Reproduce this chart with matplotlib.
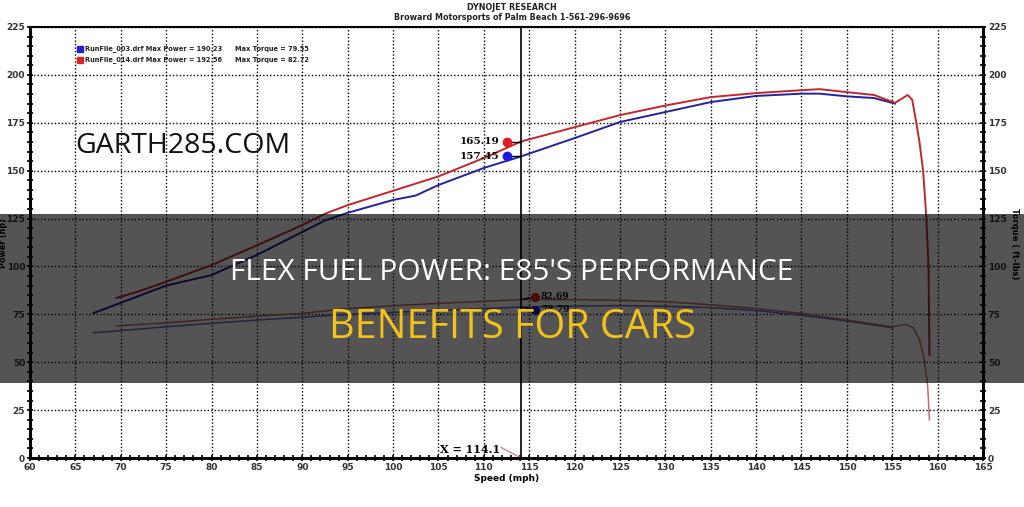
import matplotlib.pyplot as plt
from matplotlib.patches import Rectangle
from matplotlib.ticker import MultipleLocator

# blue run (RunFile_003)
blue_x = [67, 70, 75, 80, 85, 90, 92.5, 95, 100, 102.5, 105, 110, 114.1, 120, 125,
          130, 135, 140, 145, 147, 150, 153, 155.3]
blue_power = [75.7, 81, 90, 95.5, 106, 118, 124, 128, 134.7, 137, 142.5, 151.4, 157.45,
              167, 175.4, 180.6, 185.8, 189, 190.2, 190.2, 188.8, 187.9, 185]
blue_tq_x = [67, 70, 75, 80, 85, 90, 95, 100, 105, 110, 114.1, 120, 125, 130, 135,
             140, 145, 150, 155]
blue_torque = [65.4, 66.5, 68.5, 70.3, 72, 73.5, 75, 76, 77, 78, 78.79, 79.3, 79.55,
               79.2, 78.5, 77, 74.5, 71.5, 68]

# red run (RunFile_014)
red_x = [69.5, 72, 75, 80, 85, 90, 92.5, 95, 100, 105, 110, 114.1, 120, 125, 130, 135,
         140, 145, 147, 150, 153, 155.3, 156.2, 156.7, 157.2, 157.6, 158.0, 158.4,
         158.75, 159.0, 159.1]
red_power = [83.5, 87, 92, 100.7, 111, 121.6, 127.5, 132, 139.5, 147, 156.6, 165.19,
             172.7, 179, 184, 188.4, 190.5, 192, 192.56, 191, 189.5, 185.4, 188, 189.5,
             187, 176.4, 165, 150, 126, 100, 54]
red_tq_x = [69.5, 75, 80, 85, 90, 95, 100, 105, 110, 114.1, 120, 125, 130, 135, 140,
            145, 150, 155, 156.5, 157.3, 158, 158.5, 158.9, 159.1]
red_torque = [69, 70.5, 72.4, 74, 75.5, 78, 79.5, 80.7, 81.8, 82.69, 82.7, 82.3, 81.6,
              80, 78, 75.5, 72, 68.5, 69.8, 68, 62, 52, 38, 20]

cursor_x = 114.1
power_at_cursor = [165.19, 157.45]
torque_at_cursor = [82.69, 78.79]

fig = plt.figure(figsize=(10.24, 5.07), dpi=100)
ax = fig.add_axes([30 / 1024, 49 / 507, 953 / 1024, 431 / 507])

RED = '#c0282e'
BLUE = '#23239a'

ax.plot(blue_tq_x, blue_torque, color='#6a6ab8', lw=1.1)
ax.plot(red_tq_x, red_torque, color='#c86a6a', lw=1.1)
ax.plot(blue_x, blue_power, color=BLUE, lw=1.4)
ax.plot(red_x, red_power, color=RED, lw=1.4)

ax.set_xlim(60, 165)
ax.set_ylim(0, 225)
ax.xaxis.set_major_locator(MultipleLocator(5))
ax.xaxis.set_minor_locator(MultipleLocator(1))
ax.yaxis.set_major_locator(MultipleLocator(25))
ax.yaxis.set_minor_locator(MultipleLocator(5))
ax.grid(which='major', color='black', linestyle=(0, (1, 1.5)), lw=1)
ax.tick_params(which='both', direction='inout', length=5, width=1.2,
               labelsize=6.5, right=True, labelright=True, pad=1)
ax.tick_params(which='minor', length=4)
for lab in ax.get_xticklabels() + ax.get_yticklabels():
    lab.set_fontweight('bold')
    lab.set_color('#333333')
for s in ['left', 'bottom', 'right']:
    ax.spines[s].set_linewidth(2.2)
ax.spines['top'].set_linewidth(1.5)

ax.set_xlabel('Speed (mph)', fontsize=6.5, fontweight='bold')
ax.xaxis.set_label_coords(0.5, -0.037)
fig.text(3.5 / 1024, 0.52, 'Power (hp)', rotation=90, fontsize=5.8,
         fontweight='bold', ha='center', va='center')
fig.text(1014 / 1024, 0.52, 'Torque ( ft-lbs)', rotation=270, fontsize=6,
         fontweight='bold', ha='center', va='center')

# cursor
ax.axvline(cursor_x, color='black', lw=1.2)
ax.text(111.8, 4.5, 'X = 114.1', ha='right', va='center', fontsize=8,
        fontweight='bold', family='DejaVu Serif')
ax.plot([111.9, cursor_x], [5.5, 0], color='#d08a8a', lw=1)

# power markers (left of cursor)
for val, col in zip(power_at_cursor, ['#e02020', '#1818e0']):
    ax.plot([112.6, cursor_x], [val, val], color='black', lw=1)
    ax.plot(112.6, val, 'o', color=col, ms=6)
    ax.text(111.7, val, f'{val:.2f}', ha='right', va='center', fontsize=7.5,
            fontweight='bold', family='DejaVu Serif')
# torque markers (right of cursor), nudged apart
for val, col, dy in zip(torque_at_cursor, ['#e02020', '#1818e0'], [1.4, -1.3]):
    ax.plot([cursor_x, 115.6], [val, val + dy], color='black', lw=1)
    ax.plot(115.6, val + dy, 'o', color=col, ms=5.5)
    ax.text(116.3, val + dy, f'{val:.2f}', ha='left', va='center', fontsize=6.5,
            fontweight='bold', family='DejaVu Serif')

# legend
leg_rows = [('RunFile_003.drf Max Power = 190.23', 'Max Torque = 79.55', '#2222cc'),
            ('RunFile_014.drf Max Power = 192.56', 'Max Torque = 82.72', '#dd2222')]
for i, (a, b, col) in enumerate(leg_rows):
    yf = 1 - (49 + 11 * i - 27) / 431
    ax.add_patch(Rectangle((47 / 953, yf - 0.008), 0.006, 0.016,
                           transform=ax.transAxes, color=col))
    ax.text(55 / 953, yf, a, transform=ax.transAxes,
            fontsize=4.8, fontweight='bold', va='center', color='#222222')
    ax.text(205 / 953, yf, b, transform=ax.transAxes,
            fontsize=4.8, fontweight='bold', va='center', color='#222222')

ax.text(65, 163, 'GARTH285.COM', fontsize=20.5, family='Open Sans',
        va='center', ha='left', color='#111111')

fig.text(0.5, 1 - 7 / 507, 'DYNOJET RESEARCH', ha='center', va='center',
         fontsize=5.8, fontweight='bold', color='#222222')
fig.text(0.5, 1 - 18 / 507, 'Broward Motorsports of Palm Beach 1-561-296-9696',
         ha='center', va='center', fontsize=5.8, fontweight='bold', color='#222222')

# dark title band
fig.patches.append(Rectangle((0, 124 / 507), 1, 169 / 507, transform=fig.transFigure,
                             facecolor='black', alpha=0.67, zorder=10))
fig.text(0.5, 1 - 273 / 507, "FLEX FUEL POWER: E85'S PERFORMANCE", ha='center',
         va='center', fontsize=21.5, family='Open Sans', color='white', zorder=11)
fig.text(0.5, 1 - 328 / 507, 'BENEFITS FOR CARS', ha='center', va='center',
         fontsize=28.5, family='Open Sans', color='#f2c21b', zorder=11)

fig.savefig('out.png', dpi=100)
